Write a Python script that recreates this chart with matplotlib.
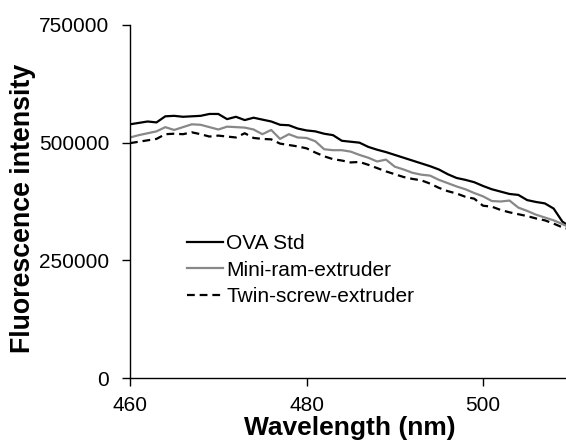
import matplotlib
matplotlib.use("Agg")
import matplotlib.pyplot as plt
import numpy as np

plt.rcParams['font.family'] = ['Liberation Sans', 'DejaVu Sans']

wavelength = list(range(460, 511))

ova_std = [539, 542, 545, 543, 556, 557, 555, 556, 557, 561,
           561, 550, 555, 548, 553, 549, 545, 538, 537, 530,
           526, 524, 519, 516, 504, 502, 500, 491, 485, 480,
           474, 468, 462, 456, 450, 443, 433, 425, 421, 416,
           408, 401, 396, 391, 389, 378, 374, 371, 360, 332, 320]

mini_ram = [511, 516, 520, 524, 533, 527, 533, 539, 538, 533,
            528, 534, 533, 532, 528, 518, 527, 508, 518, 511,
            510, 503, 486, 484, 484, 481, 474, 468, 460, 464,
            449, 443, 436, 432, 430, 421, 414, 407, 401, 393,
            386, 376, 375, 377, 362, 355, 347, 341, 335, 327, 318]

twin_screw = [499, 502, 505, 508, 518, 519, 518, 522, 518, 513,
              515, 513, 511, 520, 510, 508, 507, 498, 495, 492,
              488, 479, 471, 465, 462, 458, 459, 453, 446, 439,
              433, 427, 423, 420, 413, 404, 397, 392, 385, 381,
              366, 364, 357, 352, 348, 344, 339, 335, 328, 320, 315]

labels = ["OVA Std", "Mini-ram-extruder", "Twin-screw-extruder"]
yticks = [0, 250000, 500000, 750000]
xticks = [460, 480, 500]

W, H = 566, 442
fig = plt.figure(figsize=(W / 100, H / 100), dpi=100)
ax = fig.add_axes([130 / W, (H - 378) / H, (W - 130) / W, 353 / H])

x = np.array(wavelength)
ax.plot(x, np.array(ova_std) * 1000, color='black', lw=1.6, label=labels[0])
ax.plot(x, np.array(mini_ram) * 1000, color='#888888', lw=1.6, label=labels[1])
ax.plot(x, np.array(twin_screw) * 1000, color='black', lw=1.6,
        linestyle=(0, (3.5, 2.2)), label=labels[2])

ax.set_xlim(460, 509.4)
ax.set_ylim(0, 750000)
ax.set_xticks(xticks)
ax.set_yticks(yticks)
ax.set_yticklabels([str(v) for v in yticks])
ax.tick_params(axis='both', direction='out', length=6, width=1, labelsize=15)
ax.tick_params(axis='y', pad=9)
ax.tick_params(axis='x', pad=7)
for s in ['top', 'right']:
    ax.spines[s].set_visible(False)
for s in ['left', 'bottom']:
    ax.spines[s].set_linewidth(1)

ax.set_xlabel("Wavelength (nm)", fontsize=19, fontweight='bold')
ax.xaxis.set_label_coords((350 - 130) / 436, (378 - 435) / 353)
ax.xaxis.label.set_va('baseline')
ax.set_ylabel("Fluorescence intensity", fontsize=19.3, fontweight='bold')
ax.yaxis.set_label_coords((23 - 130) / 436, (378 - 208.5) / 353)
ax.yaxis.label.set_va('center')

leg = ax.legend(loc='upper left', bbox_to_anchor=(187 / W, (H - 234) / H),
                bbox_transform=fig.transFigure, frameon=False, fontsize=15,
                handlelength=1.73, handletextpad=0.15, labelspacing=0.36,
                borderpad=0, borderaxespad=0)

fig.savefig("out.png", dpi=100)
